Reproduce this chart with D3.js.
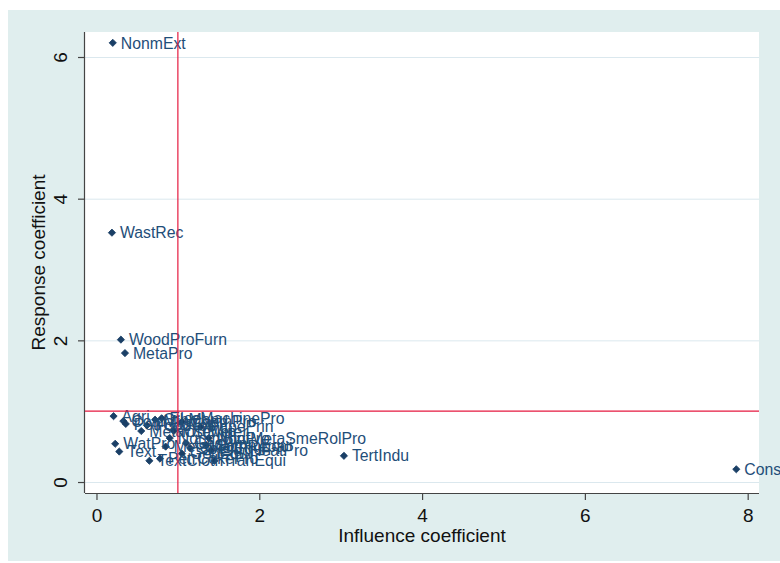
<!DOCTYPE html>
<html>
<head>
<meta charset="utf-8">
<script src="https://cdn.jsdelivr.net/npm/d3@7"></script>
<style>
  html, body { margin: 0; padding: 0; background: #ffffff; }
  svg { display: block; font-family: Arial, "Liberation Sans", sans-serif; }
  .axis-title, .tick-label { fill: #111; font-size: 19px; }
  .point-label { fill: #1f4e79; font-size: 15.8px; }
</style>
</head>
<body>
<svg id="chart" width="780" height="563"></svg>
<script>
// ===================================================================
// DATA
// ===================================================================
const sectors = [
  "NonmExt", "WastRec", "WoodProFurn", "MetaPro", "TertIndu", "Construction",
  "Agri", "CoalMin", "PetrGasExt", "MetaOreMin", "FoodTob", "Text",
  "TextCloth", "PapePrin", "PetrCokePro", "ChemPro", "NonmMinPro", "NonfMetaSmeRolPro",
  "GenEqui", "SpecEqui", "TranEqui", "ElecMachinePro", "CommEqui", "InstMeter",
  "OthManu", "MetaMachRepa", "ElecHeatPro", "GasPro", "WatPro"
];
const influence = [
  0.20, 0.19, 0.30, 0.35, 3.04, 7.86,
  0.21, 0.33, 0.36, 0.55, 0.62, 0.28,
  0.65, 1.28, 0.78, 1.05, 0.90, 1.38,
  1.05, 1.15, 1.45, 0.80, 1.35, 0.95,
  0.72, 0.85, 1.41, 1.10, 0.23
];
const response = [
  6.20, 3.52, 2.01, 1.82, 0.37, 0.18,
  0.93, 0.86, 0.82, 0.72, 0.80, 0.43,
  0.30, 0.78, 0.33, 0.85, 0.62, 0.62,
  0.40, 0.48, 0.30, 0.90, 0.52, 0.72,
  0.88, 0.50, 0.45, 0.55, 0.54
];
const xTicks = [0, 2, 4, 6, 8];
const yTicks = [0, 2, 4, 6];
const refX = 1;
const refY = 1;

const points = sectors.map((name, i) => ({ name, x: influence[i], y: response[i] }));

// ===================================================================
// LAYOUT
// ===================================================================
const W = 780, H = 563;
const plot = { left: 85, right: 759, top: 32, bottom: 493 };

const svg = d3.select('#chart');

// outer graph region
svg.append('rect')
  .attr('x', 8).attr('y', 10)
  .attr('width', W - 8).attr('height', 551)
  .attr('fill', '#e0eeee');

// plot region
svg.append('rect')
  .attr('x', plot.left).attr('y', plot.top)
  .attr('width', plot.right - plot.left).attr('height', plot.bottom - plot.top)
  .attr('fill', '#ffffff');

// Scales
const xScale = d3.scaleLinear()
  .domain([-0.141, 8.139])
  .range([plot.left, plot.right]);

const yScale = d3.scaleLinear()
  .domain([-0.155, 6.353])
  .range([plot.bottom, plot.top]);

// Grid
svg.append('g')
  .attr('transform', `translate(${plot.left},0)`)
  .call(d3.axisLeft(yScale).tickValues(yTicks).tickSize(-(plot.right - plot.left)).tickFormat(''))
  .call(g => g.select('.domain').remove())
  .selectAll('line')
  .attr('stroke', '#dbe8ee')
  .attr('stroke-width', 1);

// X axis
const xAxis = svg.append('g')
  .attr('transform', `translate(0,${plot.bottom})`)
  .call(d3.axisBottom(xScale).tickValues(xTicks).tickSize(7).tickPadding(9).tickFormat(d3.format('d')));
xAxis.select('.domain').attr('stroke', '#444').attr('stroke-width', 1.2)
  .attr('d', `M${plot.left},0.5H${plot.right}`);
xAxis.selectAll('.tick line').attr('stroke', '#444').attr('stroke-width', 1.2);
xAxis.selectAll('.tick text')
  .attr('class', 'tick-label')
  .attr('font-size', 19).attr('font-family', null)
  .attr('fill', '#111');

// Y axis
const yAxis = svg.append('g')
  .attr('transform', `translate(${plot.left},0)`)
  .call(d3.axisLeft(yScale).tickValues(yTicks).tickSize(7).tickFormat(d3.format('d')));
yAxis.select('.domain').attr('stroke', '#444').attr('stroke-width', 1.2)
  .attr('d', `M-0.5,${plot.top}V${plot.bottom}`);
yAxis.selectAll('.tick line').attr('stroke', '#444').attr('stroke-width', 1.2);
yAxis.selectAll('.tick text')
  .attr('class', 'tick-label')
  .attr('font-size', 19).attr('font-family', null)
  .attr('fill', '#111')
  .attr('x', null).attr('dy', null)
  .attr('text-anchor', 'middle')
  .attr('transform', 'translate(-18,0) rotate(-90)');

// Axis titles
svg.append('text')
  .attr('class', 'axis-title')
  .attr('x', (plot.left + plot.right) / 2)
  .attr('y', 542)
  .attr('text-anchor', 'middle')
  .text('Influence coefficient');

svg.append('text')
  .attr('class', 'axis-title')
  .attr('transform', `translate(45,${(plot.top + plot.bottom) / 2}) rotate(-90)`)
  .attr('text-anchor', 'middle')
  .text('Response coefficient');

// Points
const diamond = d3.symbol().type(d3.symbolSquare).size(26);
svg.append('g')
  .selectAll('path')
  .data(points)
  .join('path')
  .attr('transform', d => `translate(${xScale(d.x)},${yScale(d.y)}) rotate(45)`)
  .attr('d', diamond)
  .attr('fill', '#1a3f66')
  .attr('stroke', '#1a3f66')
  .attr('stroke-width', 0.8)
  .attr('stroke-linejoin', 'round');

// Labels
svg.append('g')
  .selectAll('text')
  .data(points)
  .join('text')
  .attr('class', 'point-label')
  .attr('x', d => xScale(d.x) + 8)
  .attr('y', d => yScale(d.y))
  .attr('dy', '0.36em')
  .text(d => d.name);

// Reference lines
svg.append('line')
  .attr('x1', xScale(refX)).attr('x2', xScale(refX))
  .attr('y1', plot.top).attr('y2', plot.bottom)
  .attr('stroke', '#e5193f').attr('stroke-width', 1.2);

svg.append('line')
  .attr('x1', plot.left).attr('x2', plot.right)
  .attr('y1', yScale(refY)).attr('y2', yScale(refY))
  .attr('stroke', '#e5193f').attr('stroke-width', 1.2);
</script>
</body>
</html>
